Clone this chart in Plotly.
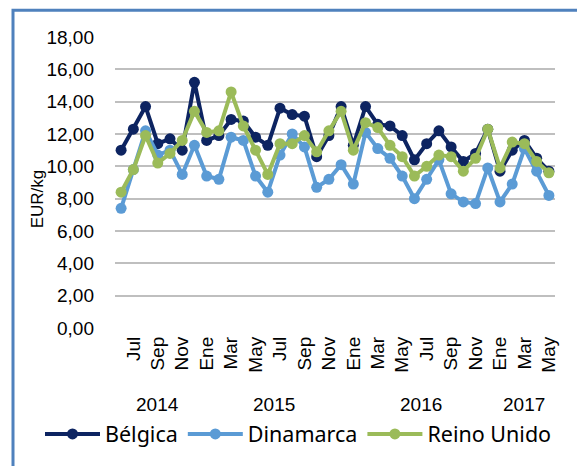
import plotly.graph_objects as go

months = ["Jun", "Jul", "Ago", "Sep", "Oct", "Nov", "Dic",
          "Ene", "Feb", "Mar", "Abr", "May", "Jun", "Jul", "Ago", "Sep", "Oct", "Nov", "Dic",
          "Ene", "Feb", "Mar", "Abr", "May", "Jun", "Jul", "Ago", "Sep", "Oct", "Nov", "Dic",
          "Ene", "Feb", "Mar", "Abr", "May"]
years = [2014] * 7 + [2015] * 12 + [2016] * 12 + [2017] * 5

belgica = [11.0, 12.3, 13.7, 11.4, 11.7, 11.0, 15.2, 11.6, 11.9, 12.9, 12.8, 11.8,
           11.3, 13.6, 13.2, 13.1, 10.6, 11.9, 13.7, 11.3, 13.7, 12.6, 12.5, 11.9,
           10.4, 11.4, 12.2, 11.2, 10.3, 10.8, 12.3, 9.7, 11.0, 11.6, 10.5, 9.7]
dinamarca = [7.4, 9.8, 12.2, 10.7, 11.0, 9.5, 11.3, 9.4, 9.2, 11.8, 11.6, 9.4,
             8.4, 10.7, 12.0, 11.2, 8.7, 9.2, 10.1, 8.9, 12.1, 11.1, 10.5, 9.4,
             8.0, 9.2, 10.4, 8.3, 7.8, 7.7, 9.9, 7.8, 8.9, 11.1, 9.7, 8.2]
reino_unido = [8.4, 9.8, 11.9, 10.2, 10.8, 11.6, 13.4, 12.1, 12.2, 14.6, 12.5, 11.0,
               9.5, 11.4, 11.4, 11.9, 10.9, 12.2, 13.4, 11.0, 12.7, 12.4, 11.3, 10.6,
               9.4, 10.0, 10.7, 10.6, 9.7, 10.5, 12.3, 9.9, 11.5, 11.4, 10.3, 9.6]

series_names = ["Bélgica", "Dinamarca", "Reino Unido"]
series_values = [belgica, dinamarca, reino_unido]
series_colors = ["#0D2461", "#5B9BD5", "#9BBB59"]

y_ticks = [0, 2, 4, 6, 8, 10, 12, 14, 16, 18]
y_ticktext = [f"{v:.2f}".replace(".", ",") for v in y_ticks]

x = list(range(len(months)))
tick_idx = [i for i in x if i % 2 == 1]

fig = go.Figure()
for name, vals, col in zip(series_names, series_values, series_colors):
    fig.add_trace(go.Scatter(
        x=x, y=vals, name=name, mode="lines+markers",
        line=dict(color=col, width=4),
        marker=dict(color=col, size=11),
    ))

FONT = "Arial, Liberation Sans, sans-serif"

# plot area pixel geometry
W, H = 577, 466
L, R, T, B = 115, 22, 37, 135
pw, ph = W - L - R, H - T - B

def px_to_paper_x(px):
    return (px - L) / pw

def px_to_paper_y(py):
    return (H - B - py) / ph

annotations = []
for yr in sorted(set(years)):
    idxs = [i for i, v in enumerate(years) if v == yr]
    annotations.append(dict(
        x=(idxs[0] + idxs[-1]) / 2, xref="x",
        y=px_to_paper_y(408), yref="paper",
        text=str(yr), showarrow=False,
        font=dict(family=FONT, size=19, color="#000000"),
        xanchor="center", yanchor="middle",
    ))
annotations.append(dict(
    x=px_to_paper_x(37), xref="paper", y=px_to_paper_y(201), yref="paper",
    text="EUR/kg", textangle=-90, showarrow=False,
    font=dict(family=FONT, size=17, color="#000000"),
    xanchor="center", yanchor="middle",
))

fig.update_layout(
    width=W, height=H,
    margin=dict(l=L, r=R, t=T, b=B),
    paper_bgcolor="white", plot_bgcolor="white",
    showlegend=True,
    legend=dict(
        orientation="h", x=px_to_paper_x(40), xanchor="left",
        y=px_to_paper_y(438), yanchor="middle",
        font=dict(family="Noto Sans, sans-serif", size=21.5, color="#000000"),
        itemwidth=55, tracegroupgap=0,
        bgcolor="rgba(0,0,0,0)",
    ),
    xaxis=dict(
        range=[-0.5, len(months) - 0.5],
        tickmode="array", tickvals=tick_idx,
        ticktext=[months[i] for i in tick_idx],
        tickangle=-90, showgrid=False, zeroline=False, showline=False,
        ticks="", ticklen=0, ticklabelstandoff=4,
        tickfont=dict(family=FONT, size=19, color="#000000"),
    ),
    yaxis=dict(
        range=[0, 18], tickmode="array", tickvals=y_ticks, ticktext=y_ticktext,
        showgrid=True, gridcolor="#BFBFBF", gridwidth=1.5,
        zeroline=False, showline=False, ticks="", ticklabelstandoff=20,
        tickfont=dict(family=FONT, size=19, color="#000000"),
    ),
    annotations=annotations,
    shapes=[dict(
        type="rect", xref="paper", yref="paper",
        x0=px_to_paper_x(13), x1=px_to_paper_x(700),
        y0=px_to_paper_y(600), y1=px_to_paper_y(10),
        line=dict(color="#4F81BD", width=3), fillcolor="rgba(0,0,0,0)",
        layer="below",
    )],
)

fig.write_html("out.html", config={"displayModeBar": False},
               post_script="document.body.style.margin='0';")
